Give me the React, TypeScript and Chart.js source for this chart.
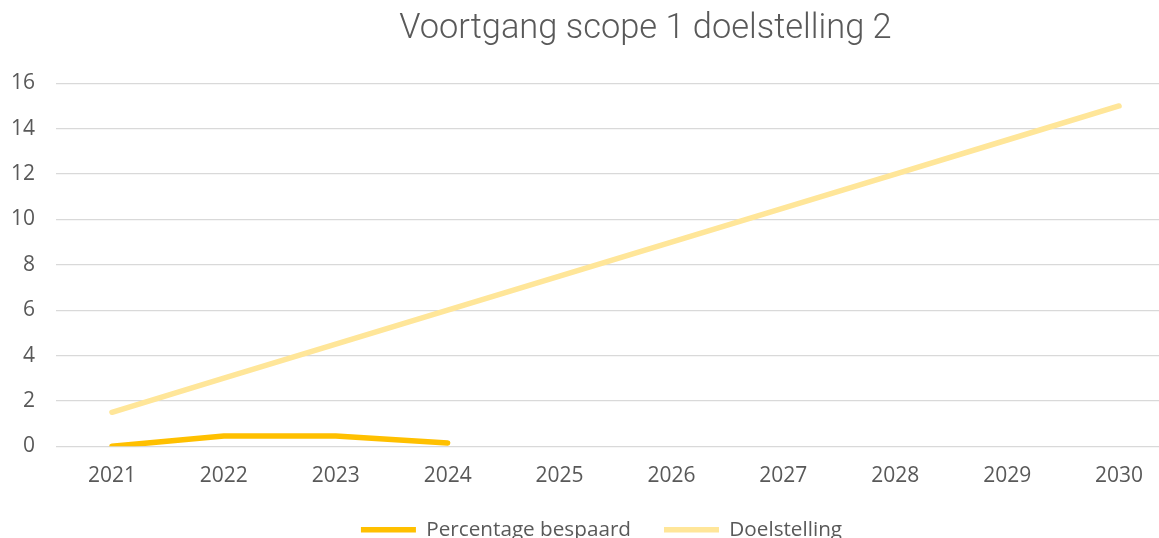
import React, { useEffect, useRef } from "react";
import { Chart, registerables } from "chart.js";

Chart.register(...registerables);

const categories = ["2021", "2022", "2023", "2024", "2025", "2026", "2027", "2028", "2029", "2030"];
const percentageBespaard = [0, 0.45, 0.45, 0.15, null, null, null, null, null, null];
const doelstelling = [1.5, 3, 4.5, 6, 7.5, 9, 10.5, 12, 13.5, 15];
const seriesNames = ["Percentage bespaard", "Doelstelling"];
const titleText = "Voortgang scope 1 doelstelling 2";

const shiftPlugin = {
  id: "shiftBoxes",
  afterLayout(chart: any) {
    if (chart.legend) {
      chart.legend.left += 28;
      chart.legend.top -= 10;
    }
    if (chart.titleBlock) {
      chart.titleBlock.left += 116;
    }
  },
};

export default function App() {
  const ref = useRef<HTMLCanvasElement | null>(null);
  useEffect(() => {
    if (!ref.current) return;
    const chart = new Chart(ref.current, {
      type: "line",
      plugins: [shiftPlugin],
      data: {
        labels: categories,
        datasets: [
          {
            label: seriesNames[0],
            data: percentageBespaard,
            borderColor: "#FFC000",
            backgroundColor: "#FFC000",
            borderWidth: 5.5,
            borderCapStyle: "round",
            borderJoinStyle: "round",
            pointRadius: 0,
            pointHoverRadius: 0,
            spanGaps: false,
          },
          {
            label: seriesNames[1],
            data: doelstelling,
            borderColor: "#FFE699",
            backgroundColor: "#FFE699",
            borderWidth: 5.5,
            borderCapStyle: "round",
            borderJoinStyle: "round",
            pointRadius: 0,
            pointHoverRadius: 0,
          },
        ],
      },
      options: {
        responsive: false,
        animation: false,
        layout: { padding: { left: 0, right: 0, top: 0, bottom: 40 } },
        plugins: {
          tooltip: { enabled: false },
          title: {
            display: true,
            text: titleText,
            color: "#595959",
            font: { family: "Roboto", size: 34.4, weight: "300", lineHeight: 1.2 },
            padding: { top: 9, bottom: 33 },
          },
          legend: {
            position: "bottom",
            labels: {
              usePointStyle: true,
              pointStyle: "line",
              pointStyleWidth: 55,
              padding: 33,
              color: "#595959",
              font: { family: "Open Sans", size: 20.7 },
            },
          },
        },
        scales: {
          x: {
            offset: true,
            grid: { display: false, drawTicks: false },
            border: { display: false },
            ticks: {
              color: "#595959",
              padding: 17,
              font: { family: "Open Sans", size: 21 },
              maxRotation: 0,
            },
            afterFit: (s: any) => {
              s.height = 50;
            },
          },
          y: {
            min: 0,
            max: 16,
            ticks: {
              stepSize: 2,
              color: "#595959",
              padding: 21,
              font: { family: "Open Sans", size: 21 },
            },
            grid: { color: "#d9d9d9", lineWidth: 1.3, drawTicks: false },
            border: { display: false },
            afterFit: (s: any) => {
              s.width = 56;
            },
          },
        },
      },
    });
    return () => chart.destroy();
  }, []);
  return (
    <div style={{ position: "fixed", left: 0, top: 0, width: 1175, height: 600, background: "#fff" }}>
      <canvas ref={ref} width={1175} height={600} style={{ width: 1175, height: 600, display: "block" }} />
    </div>
  );
}
